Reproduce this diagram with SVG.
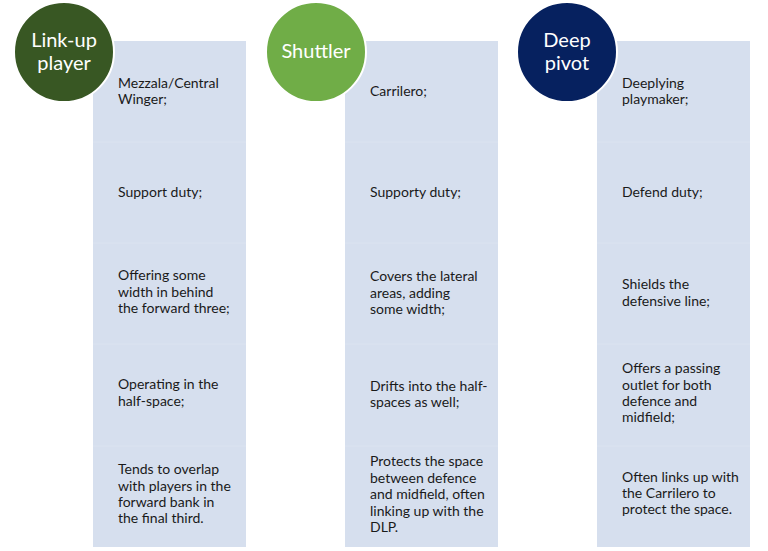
<svg xmlns="http://www.w3.org/2000/svg" width="768" height="551" viewBox="0 0 768 551">
<style>
.col{fill:#d6dfee;}
.sep{stroke:#dbe3f0;stroke-width:1;}
.t{font-family:Lato,"Liberation Sans",sans-serif;font-size:14px;fill:#1a1a1a;}
.ct{font-family:Lato,"Liberation Sans",sans-serif;font-size:20px;fill:#ffffff;text-anchor:middle;}
.circ{stroke:#ffffff;stroke-width:2;}
</style>
<rect width="768" height="551" fill="#ffffff"/>
<g id="col1">
<rect class="col" x="93" y="41" width="153" height="506"/>
<line class="sep" x1="93" y1="142" x2="246" y2="142"/>
<line class="sep" x1="93" y1="243" x2="246" y2="243"/>
<line class="sep" x1="93" y1="344" x2="246" y2="344"/>
<line class="sep" x1="93" y1="446" x2="246" y2="446"/>
<text class="t" x="118" y="88">Mezzala/Central</text>
<text class="t" x="118" y="104">Winger;</text>
<text class="t" x="118" y="197">Support duty;</text>
<text class="t" x="118" y="280">Offering some</text>
<text class="t" x="118" y="297">width in behind</text>
<text class="t" x="118" y="313">the forward three;</text>
<text class="t" x="118" y="389">Operating in the</text>
<text class="t" x="118" y="406">half-space;</text>
<text class="t" x="118" y="474">Tends to overlap</text>
<text class="t" x="118" y="491">with players in the</text>
<text class="t" x="118" y="507">forward bank in</text>
<text class="t" x="118" y="523">the final third.</text>
</g>
<g id="col2">
<rect class="col" x="345" y="41" width="153" height="506"/>
<line class="sep" x1="345" y1="142" x2="498" y2="142"/>
<line class="sep" x1="345" y1="243" x2="498" y2="243"/>
<line class="sep" x1="345" y1="344" x2="498" y2="344"/>
<line class="sep" x1="345" y1="446" x2="498" y2="446"/>
<text class="t" x="370" y="96">Carrilero;</text>
<text class="t" x="370" y="197">Supporty duty;</text>
<text class="t" x="370" y="281">Covers the lateral</text>
<text class="t" x="370" y="298">areas, adding</text>
<text class="t" x="370" y="314">some width;</text>
<text class="t" x="370" y="391">Drifts into the half-</text>
<text class="t" x="370" y="407">spaces as well;</text>
<text class="t" x="370" y="466">Protects the space</text>
<text class="t" x="370" y="483">between defence</text>
<text class="t" x="370" y="499">and midfield, often</text>
<text class="t" x="370" y="516">linking up with the</text>
<text class="t" x="370" y="532">DLP.</text>
</g>
<g id="col3">
<rect class="col" x="597" y="41" width="153" height="506"/>
<line class="sep" x1="597" y1="142" x2="750" y2="142"/>
<line class="sep" x1="597" y1="243" x2="750" y2="243"/>
<line class="sep" x1="597" y1="344" x2="750" y2="344"/>
<line class="sep" x1="597" y1="446" x2="750" y2="446"/>
<text class="t" x="622" y="88">Deeplying</text>
<text class="t" x="622" y="104">playmaker;</text>
<text class="t" x="622" y="197">Defend duty;</text>
<text class="t" x="622" y="289">Shields the</text>
<text class="t" x="622" y="306">defensive line;</text>
<text class="t" x="622" y="373">Offers a passing</text>
<text class="t" x="622" y="390">outlet for both</text>
<text class="t" x="622" y="406">defence and</text>
<text class="t" x="622" y="422">midfield;</text>
<text class="t" x="622" y="482">Often links up with</text>
<text class="t" x="622" y="498">the Carrilero to</text>
<text class="t" x="622" y="514">protect the space.</text>
</g>
<g id="circle1">
<circle class="circ" cx="64" cy="52" r="50" fill="#385723"/>
<text class="ct" x="64" y="47">Link-up</text>
<text class="ct" x="64" y="70">player</text>
</g>
<g id="circle2">
<circle class="circ" cx="316" cy="52" r="50" fill="#70ad47"/>
<text class="ct" x="316" y="58">Shuttler</text>
</g>
<g id="circle3">
<circle class="circ" cx="567" cy="52" r="50" fill="#06215f"/>
<text class="ct" x="567" y="47">Deep</text>
<text class="ct" x="567" y="70">pivot</text>
</g>
</svg>
